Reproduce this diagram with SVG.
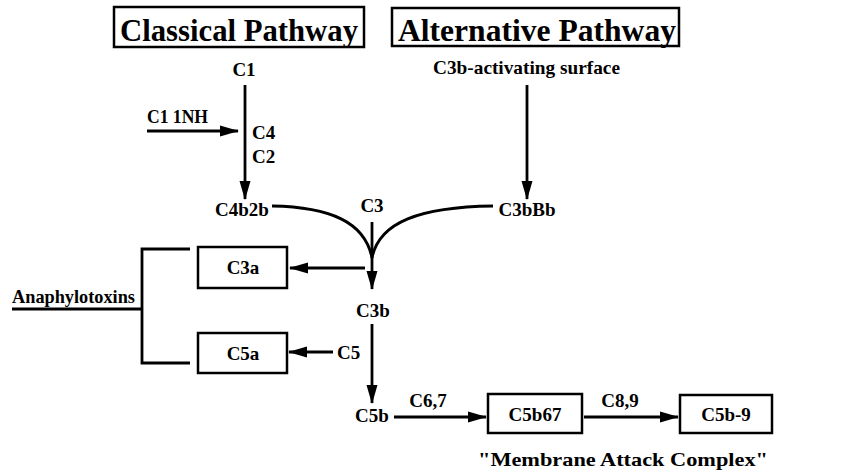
<svg xmlns="http://www.w3.org/2000/svg" width="842" height="475" viewBox="0 0 842 475">
<style>
text{font-family:"Liberation Serif","Times New Roman",serif;font-weight:bold;fill:#000}
.t{font-size:32px}
.l{font-size:19px}
.box{fill:#fff;stroke:#000;stroke-width:2.5}
.ln{fill:none;stroke:#000;stroke-width:2.8}
</style>
<defs>
<marker id="ah" markerUnits="userSpaceOnUse" markerWidth="20" markerHeight="14" refX="18" refY="7" orient="auto">
<path d="M0,1.5 L19,7 L0,12.5 Z" fill="#000"/>
</marker>
</defs>
<rect width="842" height="475" fill="#fff"/>
<g id="classical">
<rect class="box" x="114" y="7" width="250" height="40"/>
<text class="t" x="120" y="41" textLength="238" lengthAdjust="spacingAndGlyphs">Classical Pathway</text>
</g>
<g id="alternative">
<rect class="box" x="392" y="8" width="287" height="38"/>
<text class="t" x="398" y="41" textLength="278" lengthAdjust="spacingAndGlyphs">Alternative Pathway</text>
</g>
<g id="c1"><text class="l" x="244" y="76" text-anchor="middle">C1</text></g>
<g id="c1inh"><text class="l" x="147" y="123" textLength="61" lengthAdjust="spacingAndGlyphs">C1 1NH</text></g>
<g id="c4c2"><text class="l" x="252" y="139">C4</text><text class="l" x="252" y="163">C2</text></g>
<g id="c4b2b"><text class="l" x="242" y="216" text-anchor="middle">C4b2b</text></g>
<g id="surface"><text class="l" x="433" y="74" textLength="187" lengthAdjust="spacingAndGlyphs">C3b-activating surface</text></g>
<g id="c3bbb"><text class="l" x="527" y="216" text-anchor="middle">C3bBb</text></g>
<g id="c3"><text class="l" x="372" y="212" text-anchor="middle">C3</text></g>
<g id="c3b"><text class="l" x="373" y="317" text-anchor="middle">C3b</text></g>
<g id="c3a"><rect class="box" x="198" y="247" width="89" height="41"/><text class="l" x="243" y="274" text-anchor="middle">C3a</text></g>
<g id="c5"><text class="l" x="337" y="359">C5</text></g>
<g id="c5a"><rect class="box" x="198" y="333" width="89" height="40"/><text class="l" x="243" y="360" text-anchor="middle">C5a</text></g>
<g id="anaphylotoxins"><text class="l" x="12" y="303" textLength="123" lengthAdjust="spacingAndGlyphs">Anaphylotoxins</text></g>
<g id="c5b"><text class="l" x="372" y="422" text-anchor="middle">C5b</text></g>
<g id="c67"><text class="l" x="428" y="407" text-anchor="middle">C6,7</text></g>
<g id="c5b67"><rect class="box" x="488" y="394" width="94" height="39"/><text class="l" x="535" y="421" text-anchor="middle">C5b67</text></g>
<g id="c89"><text class="l" x="620" y="407" text-anchor="middle">C8,9</text></g>
<g id="c5b9"><rect class="box" x="680" y="395" width="92" height="38"/><text class="l" x="726" y="421" text-anchor="middle">C5b-9</text></g>
<g id="mac"><text class="l" x="478" y="466" textLength="290" lengthAdjust="spacingAndGlyphs">"Membrane Attack Complex"</text></g>
<g id="connectors">
<line class="ln" x1="245" y1="85" x2="245" y2="199" marker-end="url(#ah)"/>
<line class="ln" x1="147" y1="131" x2="238" y2="131" marker-end="url(#ah)"/>
<line class="ln" x1="527" y1="85" x2="527" y2="199" marker-end="url(#ah)"/>
<path class="ln" d="M272,206 C330,207 365,222 372,258"/>
<path class="ln" d="M493,206 C420,207 379,222 372,258"/>
<line class="ln" x1="372" y1="222" x2="372" y2="289" marker-end="url(#ah)"/>
<line class="ln" x1="365" y1="268" x2="290" y2="268" marker-end="url(#ah)"/>
<line class="ln" x1="333" y1="352" x2="289" y2="352" marker-end="url(#ah)"/>
<line class="ln" x1="372" y1="324" x2="372" y2="403" marker-end="url(#ah)"/>
<line class="ln" x1="394" y1="417" x2="486" y2="417" marker-end="url(#ah)"/>
<line class="ln" x1="584" y1="417" x2="678" y2="417" marker-end="url(#ah)"/>
<polyline class="ln" points="190,249 142,249 142,363 190,363"/>
<line class="ln" x1="12" y1="309" x2="142" y2="309"/>
</g>
</svg>
